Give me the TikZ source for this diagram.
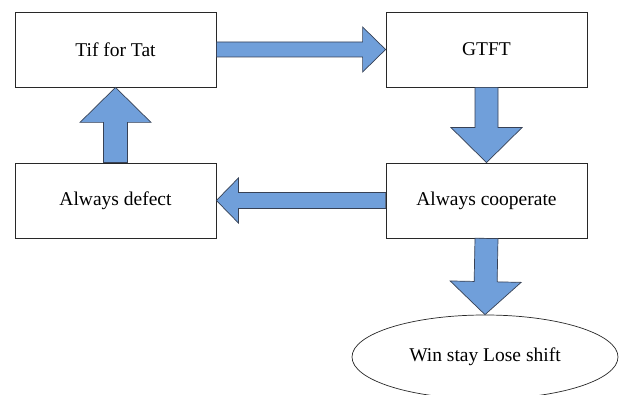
\documentclass[tikz,border=0pt]{standalone}
\usepackage{fontspec}
\setmainfont{Liberation Serif}
\usetikzlibrary{calc,shapes.geometric}
\definecolor{arrowfill}{RGB}{112,159,218}
\definecolor{arrowline}{RGB}{55,65,85}
\definecolor{boxline}{RGB}{40,40,40}

% block arrow from #1 to #2: shaft half-width #3, head half-width #4, head length #5
\newcommand\blockarrow[5]{%
  \path ($(#2)!#5!(#1)$) coordinate (headbase);
  \draw[fatarrow] ($(#1)!#3!90:(#2)$) -- ($(headbase)!#3!90:(#2)$)
    -- ($(headbase)!#4!90:(#2)$) -- (#2) -- ($(headbase)!#4!-90:(#2)$)
    -- ($(headbase)!#3!-90:(#2)$) -- ($(#1)!#3!-90:(#2)$) -- cycle;}

\tikzset{
  stratbox/.style={draw=boxline, line width=0.8pt, fill=white,
    minimum width=201pt, minimum height=75pt, inner sep=0pt,
    font=\fontsize{19.5}{23}\selectfont},
  stratell/.style={ellipse, draw=boxline, line width=0.7pt, fill=white,
    minimum width=266pt, minimum height=84pt, inner sep=0pt,
    font=\fontsize{19.5}{23}\selectfont},
  fatarrow/.style={fill=arrowfill, draw=arrowline, line width=0.7pt, line join=miter}
}

\begin{document}
\begin{tikzpicture}[x=1pt, y=-1pt]
  \useasboundingbox (0,0) rectangle (619,395);
  \fill[white] (0,0) rectangle (619,395);

  \node[stratbox] (tft)    at (115.5,49.5)  {Tif for Tat};
  \node[stratbox] (gtft)   at (486.5,49.5)  {GTFT};
  \node[stratbox] (defect) at (115.5,200.5) {Always defect};
  \node[stratbox] (coop)   at (486.5,200.5) {Always cooperate};
  \node[stratell] (wsls)   at (485,357)     {Win stay Lose shift};

  \blockarrow{tft.east}{gtft.west}{7.5pt}{22.5pt}{23pt}
  \blockarrow{gtft.south}{coop.north}{11.5pt}{35.5pt}{35pt}
  \blockarrow{coop.west}{defect.east}{8pt}{22.5pt}{22pt}
  \blockarrow{defect.north}{tft.south}{12pt}{35.5pt}{35pt}
  \blockarrow{coop.south}{wsls.north}{11.5pt}{35.5pt}{33pt}
\end{tikzpicture}
\end{document}
